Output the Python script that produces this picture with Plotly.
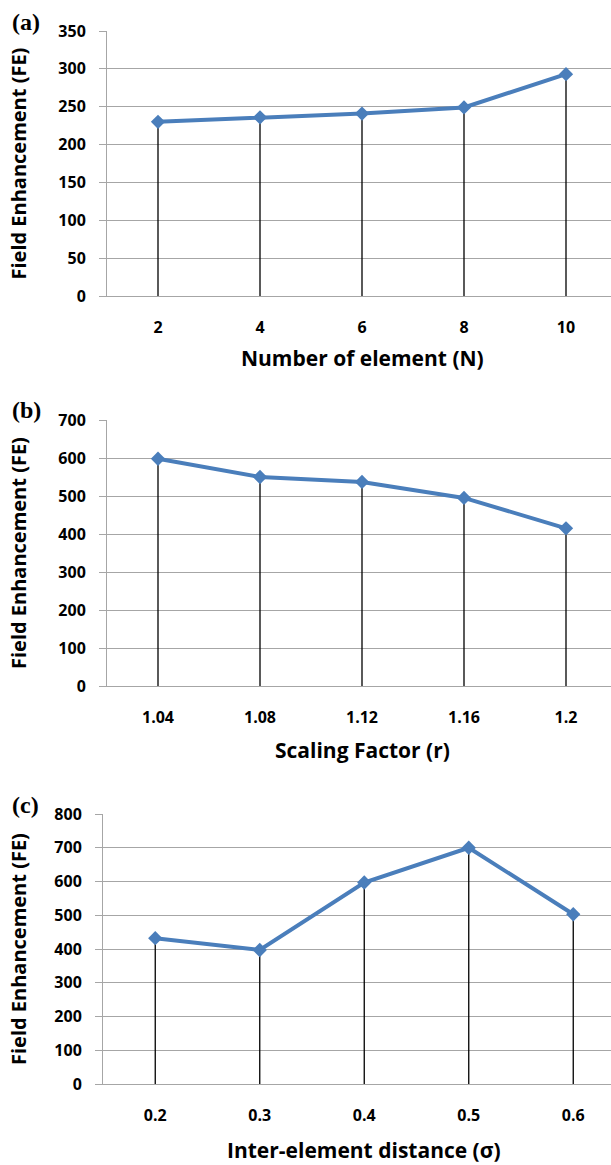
import plotly.graph_objects as go

# ---- data ----
n_elements = ["2", "4", "6", "8", "10"]
fe_vs_n = [230, 236, 241, 249, 293]

scaling_factor = ["1.04", "1.08", "1.12", "1.16", "1.2"]
fe_vs_r = [598, 550, 537, 495, 415]

distance = ["0.2", "0.3", "0.4", "0.5", "0.6"]
fe_vs_sigma = [432, 397, 597, 700, 503]

y_ticks_a = [0, 50, 100, 150, 200, 250, 300, 350]
y_ticks_b = [0, 100, 200, 300, 400, 500, 600, 700]
y_ticks_c = [0, 100, 200, 300, 400, 500, 600, 700, 800]

panel_labels = ["(a)", "(b)", "(c)"]
x_titles = ["Number of element (N)", "Scaling Factor (r)", "Inter-element distance (σ)"]
y_title = "Field Enhancement (FE)"

# ---- layout geometry (pixels) ----
W, H = 611, 1165
panels = [
    dict(cats=n_elements, vals=fe_vs_n, ticks=y_ticks_a, left=107, top=31, bottom=296,
         step=102, xtitle_y=358, plabel_y=22),
    dict(cats=scaling_factor, vals=fe_vs_r, ticks=y_ticks_b, left=107, top=420, bottom=686,
         step=102, xtitle_y=750, plabel_y=410),
    dict(cats=distance, vals=fe_vs_sigma, ticks=y_ticks_c, left=103, top=814, bottom=1084,
         step=104.5, xtitle_y=1150, plabel_y=805),
]

BLUE = "#4a7ebb"
GRID = "#a6a6a6"
TICKFONT = dict(family="Open Sans", size=16, color="black")

fig = go.Figure()
annotations = []

for i, p in enumerate(panels):
    k = "" if i == 0 else str(i + 1)
    xa, ya = "x" + k, "y" + k
    cats, vals = p["cats"], p["vals"]

    # drop lines
    dx, dy = [], []
    for c, v in zip(cats, vals):
        dx += [c, c, None]
        dy += [0, v, None]
    fig.add_trace(go.Scatter(x=dx, y=dy, mode="lines", xaxis=xa, yaxis=ya,
                             line=dict(color="black", width=1.3), showlegend=False,
                             hoverinfo="skip"))
    # main series
    fig.add_trace(go.Scatter(x=cats, y=vals, mode="lines+markers", xaxis=xa, yaxis=ya,
                             line=dict(color=BLUE, width=4),
                             marker=dict(symbol="diamond", size=11, color=BLUE),
                             showlegend=False))

    right_units = (W - p["left"]) / p["step"] - 0.5
    xdom = [p["left"] / W, 1.0]
    ydom = [1 - p["bottom"] / H, 1 - p["top"] / H]

    fig.layout["xaxis" + k] = dict(
        domain=xdom, anchor=ya, type="category", range=[-0.5, right_units],
        tickvals=cats, ticktext=["<b>" + c + "</b>" for c in cats],
        showgrid=False, zeroline=False, showline=True, linecolor=GRID, linewidth=1,
        ticks="", tickfont=TICKFONT, ticklabelstandoff=17, automargin=False,
    )
    fig.layout["yaxis" + k] = dict(
        domain=ydom, anchor=xa, range=[0, max(p["ticks"])],
        tickvals=p["ticks"], ticktext=["<b>" + str(t) + "</b>" for t in p["ticks"]],
        showgrid=True, gridcolor=GRID, gridwidth=1, zeroline=False,
        showline=True, linecolor=GRID, linewidth=1,
        ticks="outside", ticklen=7, tickcolor=GRID, tickwidth=1,
        tickfont=TICKFONT, ticklabelstandoff=10, automargin=False,
    )

    annotations.append(dict(
        text="<b>" + x_titles[i] + "</b>", x=(p["left"] + 5 * p["step"] / 2) / W,
        y=1 - p["xtitle_y"] / H, xref="paper", yref="paper",
        xanchor="center", yanchor="middle", showarrow=False,
        font=dict(family="Open Sans", size=21, color="black")))
    annotations.append(dict(
        text="<b>" + y_title + "</b>", x=18 / W,
        y=1 - (p["top"] + p["bottom"]) / 2 / H, xref="paper", yref="paper",
        xanchor="center", yanchor="middle", textangle=-90, showarrow=False,
        font=dict(family="Open Sans", size=20, color="black")))
    annotations.append(dict(
        text="<b>" + panel_labels[i] + "</b>", x=10 / W,
        y=1 - p["plabel_y"] / H, xref="paper", yref="paper",
        xanchor="left", yanchor="middle", showarrow=False,
        font=dict(family="Liberation Serif", size=24, color="black")))

fig.update_layout(
    width=W, height=H, autosize=False, margin=dict(l=0, r=0, t=0, b=0, pad=0, autoexpand=False),
    paper_bgcolor="white", plot_bgcolor="white",
    annotations=annotations,
)

post = ("document.documentElement.style.margin='0';document.body.style.margin='0';"
        "var d=document.getElementById('{plot_id}');"
        "d.style.position='fixed';d.style.top='0px';d.style.left='0px';")
fig.write_html("out.html", config={"displayModeBar": False}, post_script=post)
